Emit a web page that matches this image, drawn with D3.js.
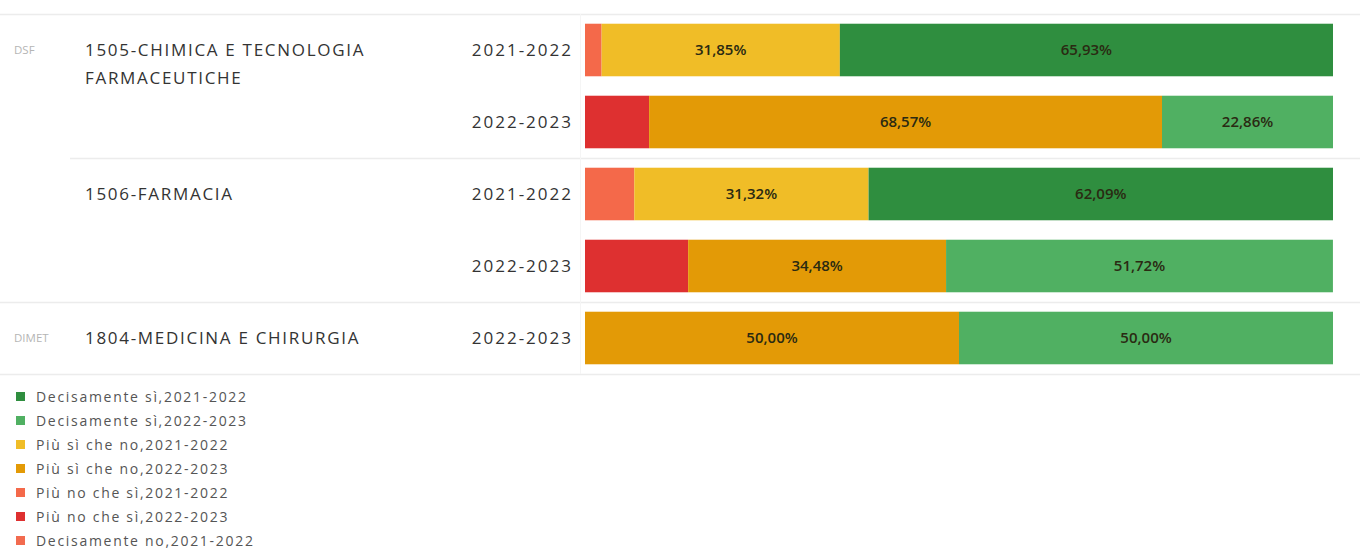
<!DOCTYPE html>
<html>
<head>
<meta charset="utf-8">
<script src="https://cdn.jsdelivr.net/npm/d3@7"></script>
<style>
  body { margin: 0; background: #fff; }
  svg { display: block; font-family: "Open Sans", sans-serif; }
</style>
</head>
<body>
<svg id="chart"></svg>
<script>
// rows: department, course, year
const departments = ["DSF", "DSF", "DSF", "DSF", "DIMET"];
const courses = ["1505-CHIMICA E TECNOLOGIA|FARMACEUTICHE", "", "1506-FARMACIA", "", "1804-MEDICINA E CHIRURGIA"];
const years = ["2021-2022", "2022-2023", "2021-2022", "2022-2023", "2022-2023"];

// answer shares per row (percent)
const piuNoCheSi = [2.22, 8.57, 6.59, 13.79, 0];
const piuSiCheNo = [31.85, 68.57, 31.32, 34.48, 50.00];
const decisamenteSi = [65.93, 22.86, 62.09, 51.72, 50.00];

const legendLabels = [
  "Decisamente sì,2021-2022",
  "Decisamente sì,2022-2023",
  "Più sì che no,2021-2022",
  "Più sì che no,2022-2023",
  "Più no che sì,2021-2022",
  "Più no che sì,2022-2023",
  "Decisamente no,2021-2022"
];
const legendColors = ["#2f8e3f", "#50b062", "#f0bd27", "#e39a06", "#f4694a", "#de3030", "#f26b4f"];

const colorFor = {
  "Decisamente sì|2021-2022": "#2f8e3f",
  "Decisamente sì|2022-2023": "#50b062",
  "Più sì che no|2021-2022": "#f0bd27",
  "Più sì che no|2022-2023": "#e39a06",
  "Più no che sì|2021-2022": "#f4694a",
  "Più no che sì|2022-2023": "#de3030"
};

const W = 1360, H = 549;
const svg = d3.select("#chart").attr("width", W).attr("height", H);

const rows = d3.range(years.length);
const y = d3.scaleBand().domain(rows).range([14, 374]).paddingInner(0.27).paddingOuter(0.135);
const x = d3.scaleLinear().domain([0, 100]).range([585, 1333]);

// grid lines
const lines = [
  { x1: 0, y: 14 },
  { x1: 70, y: 158 },
  { x1: 0, y: 302 },
  { x1: 0, y: 374 }
];
svg.selectAll("line.sep").data(lines).enter().append("line")
  .attr("x1", d => d.x1).attr("x2", W)
  .attr("y1", d => d.y + 0.5).attr("y2", d => d.y + 0.5)
  .attr("stroke", "#ececec").attr("stroke-width", 1.5);
svg.append("line")
  .attr("x1", 580.5).attr("x2", 580.5).attr("y1", 14).attr("y2", 374)
  .attr("stroke", "#f5f5f5");

// stacked segments
const series = [
  { key: "Più no che sì", vals: piuNoCheSi },
  { key: "Più sì che no", vals: piuSiCheNo },
  { key: "Decisamente sì", vals: decisamenteSi }
];
rows.forEach(i => {
  let acc = 0;
  series.forEach(s => {
    const v = s.vals[i];
    const x0 = acc;
    acc += v;
    if (v <= 0) return;
    svg.append("rect")
      .attr("x", x(x0)).attr("width", x(x0 + v) - x(x0))
      .attr("y", y(i)).attr("height", y.bandwidth())
      .attr("fill", colorFor[s.key + "|" + years[i]]);
    if (v > 15) {
      svg.append("text")
        .attr("x", (x(x0) + x(x0 + v)) / 2)
        .attr("y", y(i) + y.bandwidth() / 2)
        .attr("dy", "0.36em")
        .attr("text-anchor", "middle")
        .attr("font-size", 15)
        .attr("font-weight", 600)
        .attr("fill", "#2a2a12")
        .text(v.toFixed(2).replace(".", ",") + "%");
    }
  });
});

// year labels
svg.selectAll("text.year").data(rows).enter().append("text")
  .attr("x", 573).attr("y", i => y(i) + y.bandwidth() / 2)
  .attr("dy", "0.36em").attr("text-anchor", "end")
  .attr("font-size", 17).attr("font-weight", 500).attr("letter-spacing", 2)
  .attr("fill", "#333").text(i => years[i]);

// course labels
rows.forEach(i => {
  if (!courses[i]) return;
  const parts = courses[i].split("|");
  parts.forEach((p, k) => {
    svg.append("text")
      .attr("x", 85).attr("y", y(i) + y.bandwidth() / 2 + k * 28)
      .attr("dy", "0.36em")
      .attr("font-size", 17).attr("font-weight", 500).attr("letter-spacing", 1.7)
      .attr("fill", "#333").text(p);
  });
});

// department labels
[0, 4].forEach(i => {
  svg.append("text")
    .attr("x", 14).attr("y", y(i) + y.bandwidth() / 2)
    .attr("dy", "0.36em")
    .attr("font-size", 11.5)
    .attr("fill", "#b5b5b5").text(departments[i]);
});

// legend
const lg = svg.selectAll("g.leg").data(legendLabels).enter().append("g")
  .attr("transform", (d, i) => `translate(16, ${397 + i * 24})`);
lg.append("rect").attr("x", 0).attr("y", -5).attr("width", 9).attr("height", 9)
  .attr("fill", (d, i) => legendColors[i]);
lg.append("text").attr("x", 20).attr("dy", "0.35em")
  .attr("font-size", 14).attr("letter-spacing", 1.7)
  .attr("fill", "#555").text(d => d);
</script>
</body>
</html>
